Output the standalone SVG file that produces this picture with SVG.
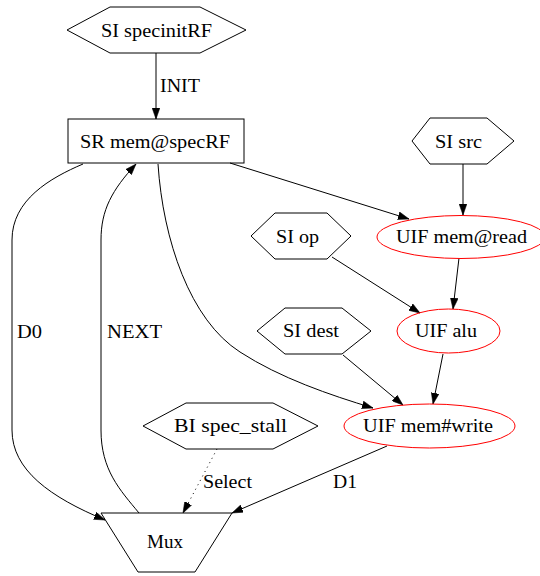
<svg xmlns="http://www.w3.org/2000/svg" width="540" height="576" viewBox="0 0 540 576">
<style>
text{font-family:"Liberation Serif","Times New Roman",Times,"DejaVu Serif",serif;font-size:18px;fill:#000;text-anchor:middle}
.lbl{text-anchor:start}
.n{fill:none;stroke:#000;stroke-width:1}
.r{fill:none;stroke:#ff0000;stroke-width:1}
.e{fill:none;stroke:#000;stroke-width:1}
</style>
<defs>
<marker id="ah" viewBox="0 0 10 7" refX="10" refY="3.5" markerWidth="11" markerHeight="8" markerUnits="userSpaceOnUse" orient="auto">
<path d="M0,0 L10,3.5 L0,7 z" fill="#000" stroke="#000" stroke-width="0.5"/>
</marker>
</defs>
<rect width="540" height="576" fill="#fff"/>
<g id="connectors">
<path class="e" d="M156,53 L156,119" marker-end="url(#ah)"/>
<path class="e" d="M463,164 L463,215" marker-end="url(#ah)"/>
<path class="e" d="M230,163 L409,219" marker-end="url(#ah)"/>
<path class="e" d="M459,258 L453,309" marker-end="url(#ah)"/>
<path class="e" d="M332,257 L420,313" marker-end="url(#ah)"/>
<path class="e" d="M343,355 L403,405" marker-end="url(#ah)"/>
<path class="e" d="M443,354 L433,404" marker-end="url(#ah)"/>
<path class="e" d="M158,164 C163,240 190,320 240,352 C280,378 330,395 373,408" marker-end="url(#ah)"/>
<path class="e" d="M83,164 C50,178 12,200 12,240 L12,430 C12,470 50,497 105,520" marker-end="url(#ah)"/>
<path class="e" d="M139,513 C120,490 101,470 101,430 L101,240 C101,210 112,190 136,164" marker-end="url(#ah)"/>
<path class="e" d="M387,446 L232,513" marker-end="url(#ah)"/>
<path class="e" d="M217,449 L183,513" stroke-dasharray="1,4" stroke-width="1.3" marker-end="url(#ah)"/>
<text class="lbl" x="160" y="92" textLength="40" lengthAdjust="spacingAndGlyphs">INIT</text>
<text class="lbl" x="17" y="338" textLength="25" lengthAdjust="spacingAndGlyphs">D0</text>
<text class="lbl" x="107" y="338" textLength="55" lengthAdjust="spacingAndGlyphs">NEXT</text>
<text class="lbl" x="203" y="488" textLength="49" lengthAdjust="spacingAndGlyphs">Select</text>
<text class="lbl" x="333" y="488" textLength="24" lengthAdjust="spacingAndGlyphs">D1</text>
</g>
<g id="si_specinitRF">
<polygon class="n" points="67,30 110,7 200,7 246,30 200,53 110,53"/>
<text x="156.5" y="37" textLength="111" lengthAdjust="spacingAndGlyphs">SI specinitRF</text>
</g>
<g id="sr_mem_specRF">
<rect class="n" x="68" y="119" width="176" height="44"/>
<text x="155" y="148" textLength="150" lengthAdjust="spacingAndGlyphs">SR mem@specRF</text>
</g>
<g id="si_src">
<polygon class="n" points="412,141 430,118 487,118 514,141 487,164 430,164"/>
<text x="458.5" y="148" textLength="47" lengthAdjust="spacingAndGlyphs">SI src</text>
</g>
<g id="uif_mem_read">
<ellipse class="r" cx="461" cy="237" rx="84" ry="21.5"/>
<text x="461.5" y="243" textLength="131" lengthAdjust="spacingAndGlyphs">UIF mem@read</text>
</g>
<g id="si_op">
<polygon class="n" points="251,236 275,213 327,213 351,236 327,259 275,259"/>
<text x="297.5" y="243" textLength="43" lengthAdjust="spacingAndGlyphs">SI op</text>
</g>
<g id="uif_alu">
<ellipse class="r" cx="448.5" cy="331" rx="51.5" ry="22"/>
<text x="446" y="337" textLength="62" lengthAdjust="spacingAndGlyphs">UIF alu</text>
</g>
<g id="si_dest">
<polygon class="n" points="257,331 285,308 342,308 371,331 342,354 285,354"/>
<text x="311" y="337" textLength="56" lengthAdjust="spacingAndGlyphs">SI dest</text>
</g>
<g id="uif_mem_write">
<ellipse class="r" cx="429.5" cy="426" rx="85.5" ry="22"/>
<text x="428" y="432" textLength="130" lengthAdjust="spacingAndGlyphs">UIF mem#write</text>
</g>
<g id="bi_spec_stall">
<polygon class="n" points="143,426 186,403 273,403 318,426 273,449 186,449"/>
<text x="230.5" y="432" textLength="113" lengthAdjust="spacingAndGlyphs">BI spec_stall</text>
</g>
<g id="mux">
<polygon class="n" points="101,513 232,513 195,572 138,572"/>
<text x="165" y="548" textLength="36" lengthAdjust="spacingAndGlyphs">Mux</text>
</g>
</svg>
